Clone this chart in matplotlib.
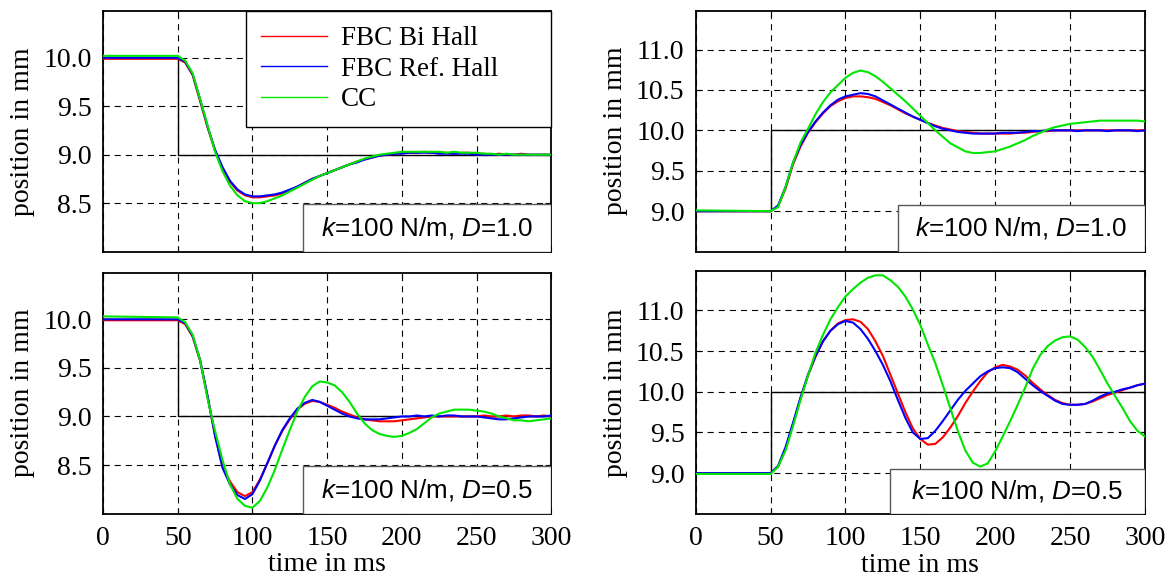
import numpy as np
import matplotlib
matplotlib.use('Agg')
import matplotlib.pyplot as plt
from matplotlib.patches import Rectangle

plt.rcParams['font.family'] = 'Liberation Serif'
plt.rcParams['mathtext.fontset'] = 'custom'
plt.rcParams['mathtext.it'] = 'Liberation Sans:italic'
plt.rcParams['mathtext.rm'] = 'Liberation Sans'

# time axis (ms): flat part before the step, then every 5 ms
t_ms = [0, 50] + list(range(55, 301, 5))
t_ref = [0, 50, 50, 300]
ref_down = [10.0, 10.0, 9.0, 9.0]
ref_up = [9.0, 9.0, 10.0, 10.0]
x_ticks = [0, 50, 100, 150, 200, 250, 300]
y_ticks_left = [8.5, 9.0, 9.5, 10.0]
y_ticks_right = [9.0, 9.5, 10.0, 10.5, 11.0]
labels = ['FBC Bi Hall', 'FBC Ref. Hall', 'CC']

# top left: k=100 N/m, D=1.0, step 10 -> 9 mm
tl_red = [9.99, 9.99, 9.95, 9.82, 9.55, 9.28, 9.04, 8.86, 8.72, 8.63,
          8.58, 8.56, 8.56, 8.57, 8.58, 8.60, 8.63, 8.67, 8.71, 8.75,
          8.78, 8.81, 8.84, 8.87, 8.90, 8.93, 8.95, 8.97, 8.99, 9.00,
          9.01, 9.02, 9.02, 9.02, 9.03, 9.02, 9.02, 9.02, 9.01, 9.02,
          9.02, 9.01, 9.01, 9.00, 9.01, 9.00, 9.00, 9.01, 9.00, 9.00,
          9.00, 9.00]
tl_blue = [10.00, 10.00, 9.96, 9.83, 9.57, 9.29, 9.05, 8.87, 8.73, 8.64,
           8.59, 8.57, 8.57, 8.58, 8.59, 8.61, 8.64, 8.67, 8.71, 8.75,
           8.78, 8.81, 8.84, 8.87, 8.90, 8.92, 8.95, 8.97, 8.99, 9.00,
           9.01, 9.01, 9.02, 9.02, 9.02, 9.02, 9.01, 9.01, 9.01, 9.01,
           9.01, 9.00, 9.00, 9.00, 9.00, 9.00, 9.00, 9.00, 9.00, 9.00,
           9.00, 9.00]
tl_green = [10.02, 10.02, 9.97, 9.84, 9.57, 9.30, 9.03, 8.83, 8.68, 8.58,
            8.52, 8.50, 8.50, 8.52, 8.55, 8.58, 8.62, 8.66, 8.70, 8.74,
            8.78, 8.81, 8.84, 8.87, 8.90, 8.93, 8.96, 8.98, 9.00, 9.01,
            9.02, 9.03, 9.03, 9.03, 9.03, 9.03, 9.03, 9.02, 9.03, 9.02,
            9.02, 9.02, 9.01, 9.01, 9.00, 9.01, 9.00, 9.00, 9.00, 9.00,
            9.00, 9.00]

# top right: k=100 N/m, D=1.0, step 9 -> 10 mm
tr_red = [9.00, 9.00, 9.06, 9.28, 9.58, 9.80, 9.97, 10.10, 10.21, 10.30,
          10.36, 10.40, 10.42, 10.42, 10.41, 10.39, 10.35, 10.31, 10.26, 10.21,
          10.17, 10.13, 10.09, 10.06, 10.03, 10.01, 9.99, 9.98, 9.97, 9.96,
          9.96, 9.96, 9.96, 9.96, 9.97, 9.97, 9.98, 9.99, 9.99, 10.00,
          10.00, 10.00, 10.00, 10.00, 10.00, 10.00, 10.00, 10.00, 10.00, 10.00,
          10.00, 10.00]
tr_blue = [9.00, 9.00, 9.07, 9.30, 9.60, 9.82, 9.98, 10.11, 10.22, 10.31,
           10.38, 10.42, 10.44, 10.46, 10.45, 10.42, 10.37, 10.32, 10.27, 10.22,
           10.17, 10.13, 10.09, 10.05, 10.02, 10.00, 9.98, 9.97, 9.96, 9.96,
           9.96, 9.96, 9.97, 9.97, 9.97, 9.98, 9.99, 9.99, 10.00, 10.00,
           10.00, 10.00, 9.99, 10.00, 10.00, 10.00, 9.99, 10.00, 10.00, 10.00,
           9.99, 10.00]
tr_green = [9.01, 9.00, 9.05, 9.30, 9.60, 9.85, 10.02, 10.20, 10.35, 10.47,
            10.56, 10.65, 10.71, 10.74, 10.72, 10.67, 10.60, 10.52, 10.44, 10.36,
            10.27, 10.18, 10.09, 10.00, 9.92, 9.84, 9.79, 9.74, 9.72, 9.72,
            9.73, 9.74, 9.77, 9.80, 9.84, 9.88, 9.93, 9.97, 10.01, 10.04,
            10.06, 10.08, 10.09, 10.10, 10.11, 10.12, 10.12, 10.12, 10.12, 10.12,
            10.12, 10.11]

# bottom left: k=100 N/m, D=0.5, step 10 -> 9 mm
bl_red = [9.99, 9.99, 9.95, 9.82, 9.57, 9.20, 8.80, 8.48, 8.33, 8.22,
          8.18, 8.22, 8.35, 8.52, 8.70, 8.85, 8.97, 9.07, 9.13, 9.16,
          9.15, 9.12, 9.09, 9.05, 9.02, 8.99, 8.97, 8.96, 8.95, 8.95,
          8.95, 8.96, 8.97, 8.98, 8.99, 9.00, 9.00, 9.00, 9.00, 9.00,
          9.00, 9.00, 9.01, 9.00, 9.00, 9.01, 9.00, 9.01, 9.01, 9.00,
          9.01, 9.00]
bl_blue = [10.00, 10.00, 9.96, 9.83, 9.58, 9.21, 8.80, 8.47, 8.30, 8.19,
           8.15, 8.20, 8.34, 8.52, 8.70, 8.86, 8.98, 9.08, 9.14, 9.17,
           9.15, 9.11, 9.07, 9.03, 9.00, 8.98, 8.97, 8.97, 8.97, 8.98,
           8.99, 9.00, 9.00, 9.01, 9.00, 9.01, 9.00, 9.01, 9.01, 9.00,
           9.00, 9.00, 8.99, 8.98, 8.97, 8.97, 8.98, 8.99, 9.00, 9.00,
           9.00, 9.01]
bl_green = [10.03, 10.02, 9.97, 9.84, 9.58, 9.18, 8.85, 8.55, 8.30, 8.15,
            8.08, 8.06, 8.13, 8.27, 8.45, 8.66, 8.86, 9.05, 9.20, 9.31,
            9.36, 9.35, 9.32, 9.25, 9.15, 9.03, 8.93, 8.86, 8.82, 8.80,
            8.79, 8.80, 8.83, 8.87, 8.93, 8.99, 9.03, 9.05, 9.07, 9.07,
            9.07, 9.06, 9.05, 9.03, 9.00, 8.98, 8.96, 8.96, 8.95, 8.96,
            8.97, 8.98]

# bottom right: k=100 N/m, D=0.5, step 9 -> 10 mm
br_red = [9.00, 9.00, 9.08, 9.30, 9.60, 9.92, 10.20, 10.43, 10.62, 10.75,
          10.84, 10.88, 10.89, 10.86, 10.77, 10.62, 10.44, 10.21, 9.98, 9.75,
          9.55, 9.42, 9.35, 9.36, 9.44, 9.56, 9.70, 9.86, 10.00, 10.13,
          10.24, 10.30, 10.33, 10.31, 10.27, 10.20, 10.11, 10.03, 9.96, 9.90,
          9.86, 9.84, 9.84, 9.85, 9.88, 9.92, 9.96, 9.99, 10.02, 10.05,
          10.08, 10.10]
br_blue = [9.00, 9.00, 9.09, 9.32, 9.62, 9.93, 10.21, 10.44, 10.62, 10.75,
           10.83, 10.87, 10.85, 10.77, 10.65, 10.50, 10.33, 10.13, 9.90, 9.68,
           9.50, 9.42, 9.43, 9.52, 9.64, 9.77, 9.90, 10.01, 10.10, 10.19,
           10.25, 10.29, 10.30, 10.29, 10.24, 10.16, 10.08, 10.01, 9.95, 9.89,
           9.85, 9.84, 9.84, 9.85, 9.89, 9.94, 9.98, 10.00, 10.03, 10.05,
           10.08, 10.10]
br_green = [8.99, 8.99, 9.08, 9.28, 9.58, 9.90, 10.20, 10.48, 10.70, 10.89,
            11.04, 11.17, 11.26, 11.34, 11.40, 11.43, 11.43, 11.37, 11.29, 11.17,
            11.01, 10.82, 10.58, 10.35, 10.08, 9.80, 9.52, 9.28, 9.13, 9.08,
            9.12, 9.27, 9.45, 9.64, 9.84, 10.05, 10.28, 10.45, 10.56, 10.63,
            10.67, 10.68, 10.64, 10.55, 10.43, 10.27, 10.10, 9.95, 9.80, 9.64,
            9.52, 9.45]

colors = ['#ff0000', '#0000ff', '#00e600']


def draw_panel(ax, series, ref, yticks, ylim, text, box_x, box_h, bottom_row):
	ax.set_axisbelow(True)
	ax.plot(t_ref, ref, color='k', lw=1.0, zorder=2)
	lines = []
	for y, c, lab in zip(series, colors, labels):
		l, = ax.plot(t_ms, y, color=c, lw=1.5, label=lab, zorder=3)
		lines.append(l)
	ax.set_xlim(0, 300)
	ax.set_ylim(ylim)
	ax.set_xticks(x_ticks)
	ax.set_yticks(yticks)
	ax.yaxis.set_major_formatter('{x:.1f}')
	ax.grid(True, color='k', linestyle=(0, (5.5, 4.5)), lw=0.8)
	ax.tick_params(direction='in', top=True, right=True, labelsize=20, length=4)
	ax.tick_params(axis='x', pad=9)
	ax.tick_params(axis='y', pad=8)
	for s in ax.spines.values():
		s.set_linewidth(1.3)
	ax.set_ylabel('position in mm', fontsize=20, labelpad=6)
	if bottom_row:
		ax.set_xlabel('time in ms', fontsize=20, labelpad=1)
	else:
		ax.tick_params(labelbottom=False)
	# parameter box in the lower right corner
	ax.add_patch(Rectangle((box_x, 0), 1 - box_x, box_h, transform=ax.transAxes,
			facecolor='white', edgecolor='0.35', lw=1.0, zorder=5))
	ax.text((box_x + 1) / 2, box_h / 2, text, transform=ax.transAxes,
			ha='center', va='center', fontsize=18.7, family='Liberation Sans', zorder=6)
	return lines


fig = plt.figure(figsize=(11.73, 5.79), dpi=100)
ax_tl = fig.add_axes([0.0878, 0.5655, 0.3822, 0.4150])
ax_tr = fig.add_axes([0.5931, 0.5655, 0.3830, 0.4160])
ax_bl = fig.add_axes([0.0878, 0.1130, 0.3822, 0.4160])
ax_br = fig.add_axes([0.5931, 0.1125, 0.3830, 0.4190])

handles = draw_panel(ax_tl, [tl_red, tl_blue, tl_green], ref_down, y_ticks_left, (8.0, 10.48),
		r'$k$=100 N/m, $D$=1.0', 0.446, 0.200, False)
draw_panel(ax_tr, [tr_red, tr_blue, tr_green], ref_up, y_ticks_right, (8.5, 11.48),
		r'$k$=100 N/m, $D$=1.0', 0.450, 0.193, False)
draw_panel(ax_bl, [bl_red, bl_blue, bl_green], ref_down, y_ticks_left, (8.0, 10.48),
		r'$k$=100 N/m, $D$=0.5', 0.446, 0.197, True)
draw_panel(ax_br, [br_red, br_blue, br_green], ref_up, y_ticks_right, (8.5, 11.48),
		r'$k$=100 N/m, $D$=0.5', 0.432, 0.185, True)

leg = ax_tl.legend(handles=handles, loc='upper left', bbox_to_anchor=(0.3186, 0.539, 0.6814, 0.461),
		mode='expand', borderaxespad=0, fancybox=False, edgecolor='k', framealpha=1,
		fontsize=19.5, handlelength=2.45, handletextpad=0.5, labelspacing=0.2, borderpad=0.55)
leg.get_frame().set_linewidth(1.0)
for l in leg.get_lines():
	l.set_linewidth(1.0)

plt.savefig('out.png', dpi=100)
